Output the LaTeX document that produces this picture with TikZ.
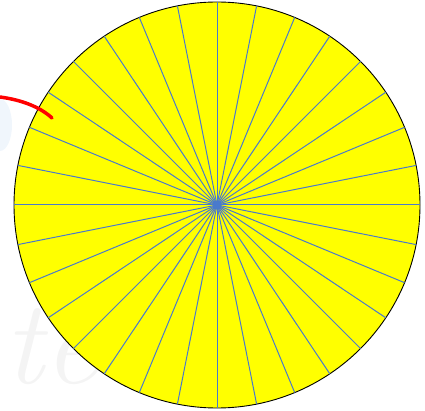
\documentclass[tikz,border=0pt]{standalone}
\begin{document}
\begin{tikzpicture}[x=1pt,y=-1pt,
  spoke/.style={draw=spokeblue,line width=1pt},
  rim/.style={draw=black,fill=fillyellow,line width=0.9pt}]
\definecolor{spokeblue}{RGB}{74,122,204}
\definecolor{fillyellow}{RGB}{255,255,0}
\definecolor{wmark}{RGB}{244,244,244}
\definecolor{blob}{RGB}{240,246,252}
\useasboundingbox (0,0) rectangle (425,411);
\fill[blob] (0,125) ellipse [x radius=12, y radius=26];
\node[anchor=base west,text=wmark,font=\itshape\fontsize{120}{120}\selectfont,inner sep=0pt] (wm) at (4,383) {te};
\coordinate (c) at (217,205);
\draw[rim] (c) circle [radius=203];
\foreach \a in {0,11.25,...,349} {
  \draw[spoke] (c) -- ++(\a:203);
}
\fill[spokeblue] (c) circle [radius=4.5];
\coordinate (r1) at (0,97);
\coordinate (r2) at (52,118);
\draw[red,line width=3.5pt,line cap=round] (r1) .. controls (22,100) and (40,107) .. (r2);
\end{tikzpicture}
\end{document}
